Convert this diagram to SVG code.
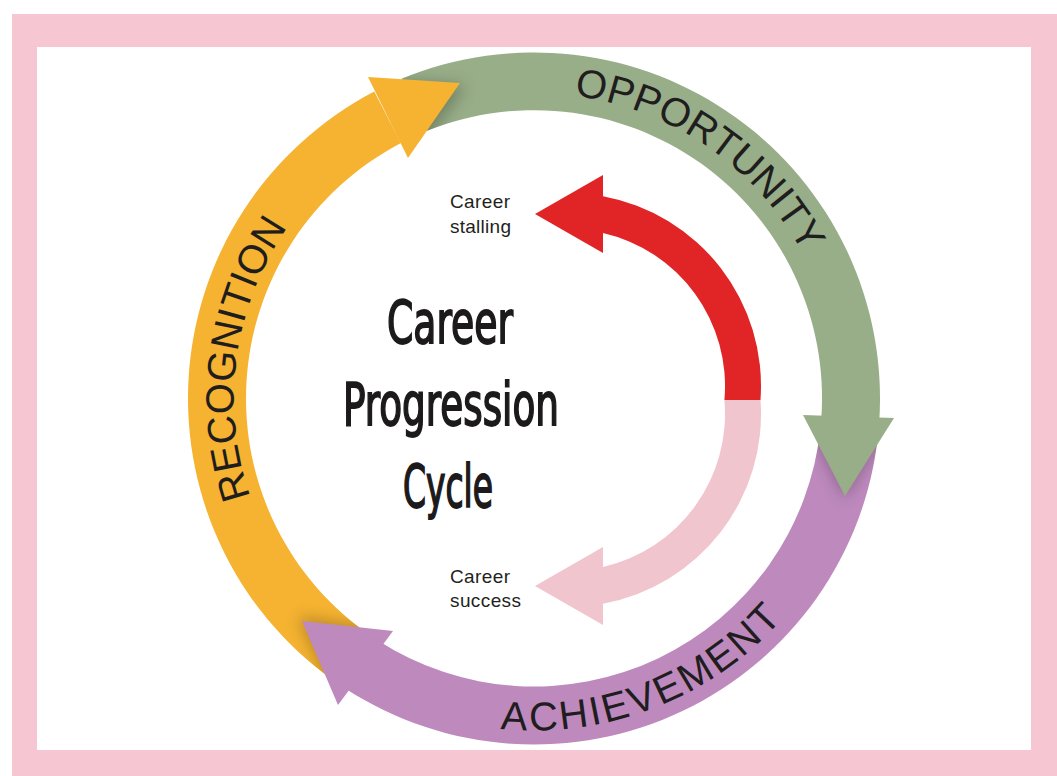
<svg xmlns="http://www.w3.org/2000/svg" width="1057" height="776" viewBox="0 0 1057 776">
  <style>
    .ring-label { font-family: "Liberation Sans", Arial, sans-serif; font-size: 40px; fill: #1f1d1e; }
    .side-label { font-family: "Liberation Sans", Arial, sans-serif; font-size: 19px; fill: #231f20; }
    .title { font-family: "DejaVu Sans Condensed", "DejaVu Sans", "Liberation Sans", sans-serif; font-weight: normal; font-size: 58px; fill: #1c1a1b; stroke: #1c1a1b; stroke-width: 1.8px; }
    .green { fill: #98ae88; }
    .yellow { fill: #f5b331; }
    .purple { fill: #be8abe; }
    .red { fill: #e12527; }
    .blush { fill: #f1c5cd; }
    .shade { fill: #000; opacity: 0.25; filter: url(#soft); }
  </style>
  <defs>
    <filter id="soft" x="-50%" y="-50%" width="200%" height="200%">
      <feGaussianBlur stdDeviation="8"/>
    </filter>
    <!-- band outlines, reused as clips for the soft shadows under each arrowhead -->
    <path id="band-green" d="M 401.6 78.8 A 346 346 0 0 1 879.16 422.64 L 821.30 418.59 A 288 288 0 0 0 419.3 134.0 Z"/>
    <path id="band-yellow" d="M 340.52 685.35 A 346 346 0 0 1 374.23 91.59 L 401.02 143.04 A 288 288 0 0 0 372.95 637.26 Z"/>
    <path id="band-purple" d="M 878.10 434.67 A 346 346 0 0 1 345.55 688.68 L 377.14 640.04 A 288 288 0 0 0 820.42 428.60 Z"/>
    <clipPath id="clip-green"><use href="#band-green"/></clipPath>
    <clipPath id="clip-yellow"><use href="#band-yellow"/></clipPath>
    <clipPath id="clip-purple"><use href="#band-purple"/></clipPath>
    <!-- baselines for the curved ring labels -->
    <path id="arc-recognition" d="M 311.58 599.82 A 300 300 0 0 1 374.38 144.49"/>
    <path id="arc-opportunity" d="M 449.93 105.32 A 304 304 0 0 1 837.33 366.62"/>
    <path id="arc-achievement" d="M 327.33 658.33 A 332 332 0 0 0 862.35 447.57"/>
  </defs>

  <!-- frame -->
  <rect x="12" y="14" width="1045" height="762" fill="#f6c6d2"/>
  <rect x="37" y="47" width="994" height="703" fill="#ffffff"/>

  <!-- outer cycle bands -->
  <g id="bands">
    <use href="#band-green" class="green"/>
    <use href="#band-yellow" class="yellow"/>
    <use href="#band-purple" class="purple"/>
  </g>

  <!-- soft shading cast by each arrowhead onto the band it overlaps -->
  <g id="shading">
    <g clip-path="url(#clip-green)"><polygon class="shade" points="372,79 466,85 414,160"/></g>
    <g clip-path="url(#clip-yellow)"><polygon class="shade" points="393,631 298,617 338,705"/></g>
    <g clip-path="url(#clip-purple)"><polygon class="shade" points="803,415 894,418 845,500"/></g>
  </g>

  <g id="opportunity">
    <polygon class="green" points="803,415 894,418 845,496"/>
    <text class="ring-label" font-size="41"><textPath href="#arc-opportunity" startOffset="50.6%" text-anchor="middle">OPPORTUNITY</textPath></text>
  </g>

  <g id="achievement">
    <polygon class="purple" points="393,631 302,621 338,705"/>
    <text class="ring-label" font-size="41" letter-spacing="2.5"><textPath href="#arc-achievement" startOffset="50%" text-anchor="middle">ACHIEVEMENT</textPath></text>
  </g>

  <g id="recognition">
    <polygon class="yellow" points="368,77 460,83 408,158"/>
    <text class="ring-label"><textPath href="#arc-recognition" startOffset="50%" text-anchor="middle">RECOGNITION</textPath></text>
  </g>

  <!-- inner arrows -->
  <g id="connectors">
    <path class="red" d="M 603 196.2 A 193 193 0 0 1 760.5 400 L 724.4 400 A 157 157 0 0 0 603 233 Z"/>
    <polygon class="red" points="603,175 535,214 603,253"/>
    <path class="blush" d="M 603 603.8 A 193 193 0 0 0 760.5 400 L 724.4 400 A 157 157 0 0 1 603 567 Z"/>
    <polygon class="blush" points="603,625 535,586 603,547"/>
  </g>

  <g id="career-stalling">
    <text class="side-label" x="450" y="208" textLength="60">Career</text>
    <text class="side-label" x="450" y="232.5" textLength="61">stalling</text>
  </g>

  <g id="career-success">
    <text class="side-label" x="450" y="583" textLength="60">Career</text>
    <text class="side-label" x="450" y="607" textLength="71">success</text>
  </g>

  <g id="title">
    <text class="title" x="387" y="343" textLength="126" lengthAdjust="spacingAndGlyphs">Career</text>
    <text class="title" x="343" y="425" textLength="216" lengthAdjust="spacingAndGlyphs">Progression</text>
    <text class="title" x="403" y="507" textLength="90" lengthAdjust="spacingAndGlyphs">Cycle</text>
  </g>
</svg>
